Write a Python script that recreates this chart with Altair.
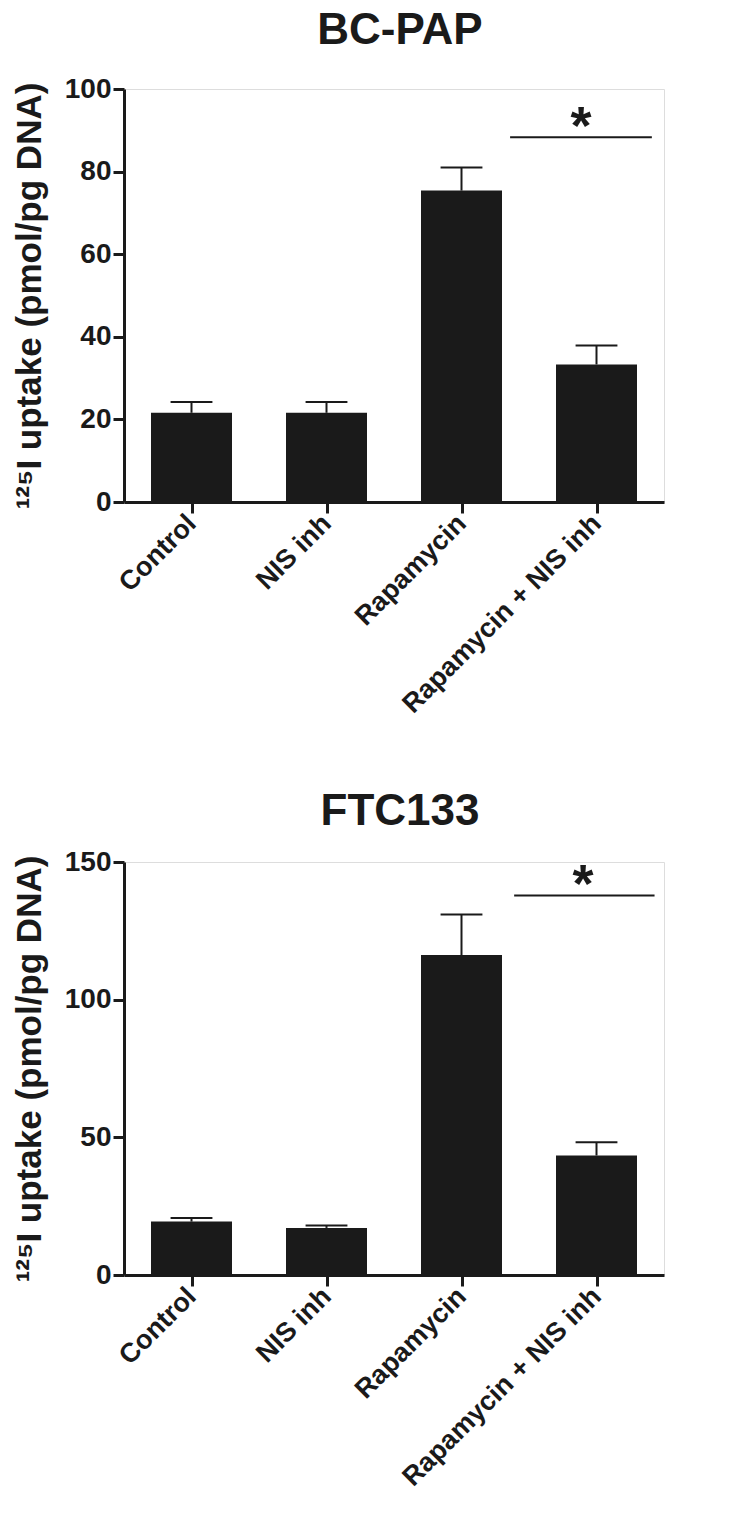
import altair as alt
import pandas as pd

# ---- data ----
groups = ["Control", "NIS inh", "Rapamycin", "Rapamycin + NIS inh"]

bcpap_mean = [21.6, 21.6, 75.4, 33.3]
bcpap_sem = [2.6, 2.6, 5.6, 4.6]

ftc_mean = [19.4, 17.1, 116.2, 43.4]
ftc_sem = [1.3, 0.9, 14.7, 4.8]

# significance annotation (data coordinates): x from, x to, y of bar, star x, star baseline y
bcpap_sig = [2.36, 3.41, 88.3, 2.885, 86.8]
ftc_sig = [2.39, 3.43, 137.8, 2.90, 135.5]

y_title = "¹²⁵I uptake (pmol/pg DNA)"
INK = "#1a1a1a"
FONT = "Liberation Sans"
HALF_BAR = 0.30
HALF_CAP = 0.155

label_expr = "[" + ",".join("'" + g + "'" for g in groups) + "][datum.value]"


def panel(title, means, sems, ymax, ystep, sig, title_offset):
    df = pd.DataFrame({"i": list(range(len(groups))), "group": groups,
                       "mean": means, "sem": sems})
    df["upper"] = df["mean"] + df["sem"]
    df["x0"] = df["i"] - HALF_BAR
    df["x1"] = df["i"] + HALF_BAR
    df["c0"] = df["i"] - HALF_CAP
    df["c1"] = df["i"] + HALF_CAP

    xscale = alt.Scale(domain=[-0.5, len(groups) - 0.5], nice=False, zero=False)
    yscale = alt.Scale(domain=[0, ymax], nice=False)

    xaxis = alt.Axis(values=list(range(len(groups))), labelExpr=label_expr,
                     labelAngle=-45, labelFontSize=27, labelFontWeight="bold",
                     labelColor=INK, labelPadding=6, labelBaseline="middle",
                     labelAlign="right", title=None, grid=False,
                     labelOverlap=False, labelLimit=0, labelBound=False,
                     tickSize=11, tickWidth=3, tickColor=INK,
                     domainWidth=3, domainColor=INK, labelFont=FONT)
    yaxis = alt.Axis(values=list(range(0, ymax + 1, ystep)), title=y_title,
                     titleFontSize=35, titleFontWeight="bold", titleColor=INK,
                     titleFont=FONT, titlePadding=17,
                     labelFontSize=28, labelFontWeight="bold", labelColor=INK,
                     labelFont=FONT, labelPadding=2, grid=False,
                     labelOverlap=False,
                     tickSize=11, tickWidth=3, tickColor=INK,
                     domainWidth=3, domainColor=INK)

    base = alt.Chart(df)
    bars = base.mark_bar(color=INK).encode(
        x=alt.X("x0:Q", scale=xscale, axis=xaxis),
        x2="x1:Q",
        y=alt.Y("mean:Q", scale=yscale, axis=yaxis),
        y2=alt.datum(0),
    )
    stems = base.mark_rule(color=INK, strokeWidth=2).encode(
        x=alt.X("i:Q", scale=xscale, axis=xaxis),
        y=alt.Y("mean:Q", scale=yscale, axis=yaxis),
        y2="upper:Q",
    )
    caps = base.mark_rule(color=INK, strokeWidth=2).encode(
        x=alt.X("c0:Q", scale=xscale, axis=xaxis),
        x2="c1:Q",
        y=alt.Y("upper:Q", scale=yscale, axis=yaxis),
    )
    sdf = pd.DataFrame({"a": [sig[0]], "b": [sig[1]], "y": [sig[2]],
                        "sx": [sig[3]], "sy": [sig[4]], "t": ["*"]})
    sline = alt.Chart(sdf).mark_rule(color=INK, strokeWidth=2).encode(
        x=alt.X("a:Q", scale=xscale, axis=xaxis),
        x2="b:Q",
        y=alt.Y("y:Q", scale=yscale, axis=yaxis),
    )
    star = alt.Chart(sdf).mark_text(font=FONT, fontSize=54, fontWeight="bold",
                                    color=INK, baseline="alphabetic",
                                    align="center").encode(
        x=alt.X("sx:Q", scale=xscale, axis=xaxis),
        y=alt.Y("sy:Q", scale=yscale, axis=yaxis),
        text="t:N",
    )
    return alt.layer(bars, stems, caps, sline, star).properties(
        width=540, height=413,
        title=alt.TitleParams(title, fontSize=44, fontWeight="bold", font=FONT,
                              color=INK, anchor="middle", offset=title_offset,
                              dx=6),
    )


top = panel("BC-PAP", bcpap_mean, bcpap_sem, 100, 20, bcpap_sig, 22)
bottom = panel("FTC133", ftc_mean, ftc_sem, 150, 50, ftc_sig, 14)

chart = alt.vconcat(top, bottom, spacing=70).properties(
    padding={"left": 3, "top": 0, "right": 5, "bottom": 5}
).configure_view(stroke=None).configure(font=FONT)

chart.save("out.html", embed_options={"renderer": "svg", "actions": False})
